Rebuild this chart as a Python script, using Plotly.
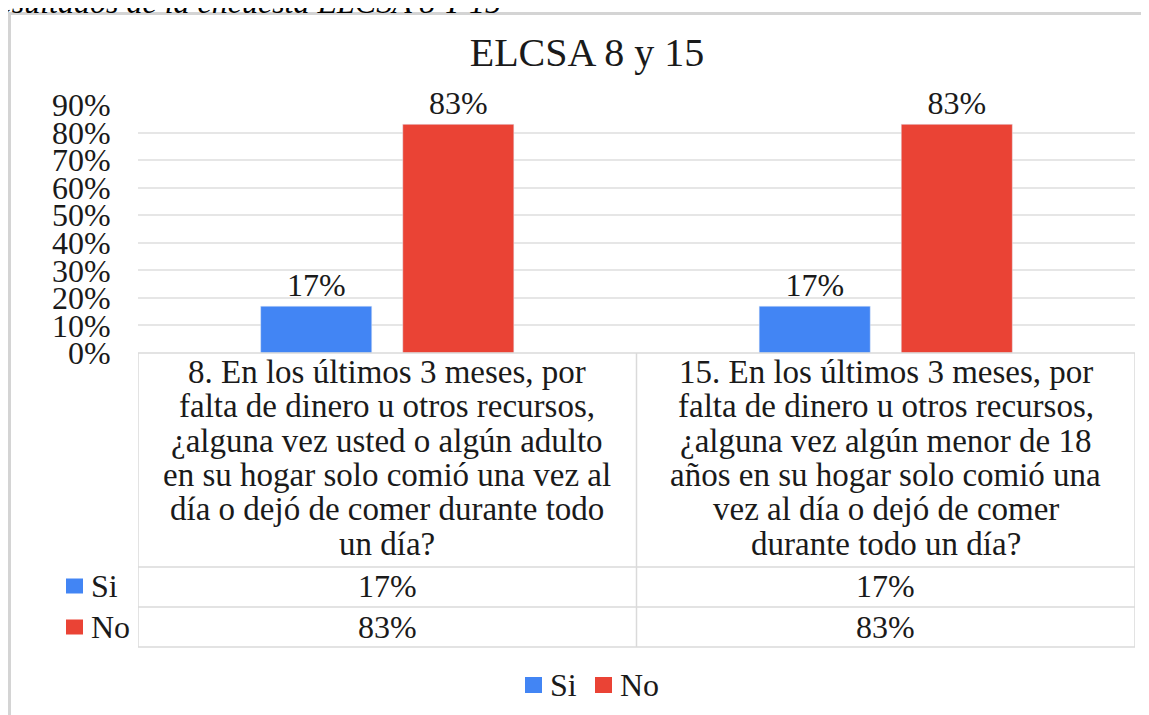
import plotly.graph_objects as go

# data
question_lines = [
    ["8. En los últimos 3 meses, por",
     "falta de dinero u otros recursos,",
     "¿alguna vez usted o algún adulto",
     "en su hogar solo comió una vez al",
     "día o dejó de comer durante todo",
     "un día?"],
    ["15. En los últimos 3 meses, por",
     "falta de dinero u otros recursos,",
     "¿alguna vez algún menor de 18",
     "años en su hogar solo comió una",
     "vez al día o dejó de comer",
     "durante todo un día?"],
]
categories = [" ".join(lines) for lines in question_lines]
series_names = ["Si", "No"]
si_values = [0.17, 0.17]
no_values = [0.83, 0.83]
series_values = [si_values, no_values]
series_colors = ["#4285F4", "#EA4335"]
y_ticks = [0, 0.1, 0.2, 0.3, 0.4, 0.5, 0.6, 0.7, 0.8, 0.9]

FONT = "Liberation Serif"
TXT = "#1a1a1a"
LINE = "#dadada"

# page has an 8px body margin; plot area on the page: left 138, right 1135, top 105, bottom 353
OFF = 8
W, H = 1149 - OFF, 715 - OFF

def ypx(py):
    return (353 - py) / 248

def xpx(px):
    return (px - 138) / 997

fig = go.Figure()
for name, vals, color in zip(series_names, series_values, series_colors):
    fig.add_trace(go.Bar(
        x=categories, y=vals, name=name, marker_color=color,
        text=[f"{v:.0%}" for v in vals], textposition="outside",
        textfont=dict(size=32, color=TXT, family=FONT),
        cliponaxis=False, constraintext="none", showlegend=False,
    ))

shapes = []
annotations = []

# chart frame (left and top edges visible)
shapes.append(dict(type="path", xref="paper", yref="paper",
                   path=f"M {xpx(9.5)},{ypx(730)} L {xpx(9.5)},{ypx(13.5)} L {xpx(1160)},{ypx(13.5)}",
                   line=dict(color="#d4d4d4", width=3)))

# data table lines
n = len(categories)
left_key = -0.5 + (56 - 138) / (997 / n)
for py, x0 in [(353, -0.5), (567, left_key), (607, left_key), (647, left_key)]:
    shapes.append(dict(type="line", xref="x", yref="paper", x0=x0, x1=n - 0.5,
                       y0=ypx(py), y1=ypx(py), line=dict(color=LINE, width=1.5)))
for i in range(n + 1):
    shapes.append(dict(type="line", xref="x", yref="paper", x0=i - 0.5, x1=i - 0.5,
                       y0=ypx(353), y1=ypx(647), line=dict(color=LINE, width=1.5)))
shapes.append(dict(type="line", xref="x", yref="paper", x0=left_key, x1=left_key,
                   y0=ypx(567), y1=ypx(647), line=dict(color=LINE, width=1.5)))

# category header text
for i, lines in enumerate(question_lines):
    for j, line in enumerate(lines):
        annotations.append(dict(x=i, xref="x", y=ypx(372 + 34.3 * j), yref="paper",
                                text=line, showarrow=False, xanchor="center", yanchor="middle",
                                font=dict(size=33, color=TXT, family=FONT)))

# value rows with legend keys
row_centers = [586, 627]
for name, vals, color, rc in zip(series_names, series_values, series_colors, row_centers):
    for i, v in enumerate(vals):
        annotations.append(dict(x=i, xref="x", y=ypx(rc), yref="paper", text=f"{v:.0%}",
                                showarrow=False, xanchor="center", yanchor="middle",
                                font=dict(size=32, color=TXT, family=FONT)))
    shapes.append(dict(type="rect", xref="paper", yref="paper", x0=xpx(66), x1=xpx(83),
                       y0=ypx(rc + 7.5), y1=ypx(rc - 7.5), fillcolor=color, line=dict(width=0)))
    annotations.append(dict(x=xpx(89), xref="paper", y=ypx(rc), yref="paper", text=name,
                            showarrow=False, xanchor="left", yanchor="middle",
                            font=dict(size=32, color=TXT, family=FONT)))

# bottom legend
legend_x = [525, 595]
for name, color, lx in zip(series_names, series_colors, legend_x):
    shapes.append(dict(type="rect", xref="paper", yref="paper", x0=xpx(lx), x1=xpx(lx + 17),
                       y0=ypx(693), y1=ypx(677), fillcolor=color, line=dict(width=0)))
    annotations.append(dict(x=xpx(lx + 23), xref="paper", y=ypx(685), yref="paper", text=name,
                            showarrow=False, xanchor="left", yanchor="middle",
                            font=dict(size=32, color=TXT, family=FONT)))

# caption cut off at the top of the page
annotations.append(dict(x=xpx(503), xref="paper", y=ypx(1.5), yref="paper",
                        text="<i>Resultados de la encuesta ELCSA 8 Y 15</i>",
                        showarrow=False, xanchor="right", yanchor="middle",
                        font=dict(size=32, color="#000000", family=FONT)))

fig.update_layout(
    width=W, height=H,
    margin=dict(l=138 - OFF, r=W - (1135 - OFF), t=105 - OFF, b=H - (353 - OFF), autoexpand=False),
    paper_bgcolor="white", plot_bgcolor="white",
    font=dict(family=FONT, color=TXT),
    title=dict(text="ELCSA 8 y 15", x=(587 - OFF) / W, xanchor="center",
               y=1 - (52 - OFF) / H, yanchor="middle",
               font=dict(size=40, color=TXT, family=FONT)),
    bargap=0.43, bargroupgap=0.218, barmode="group",
    shapes=shapes, annotations=annotations,
)
fig.update_xaxes(range=[-0.5, n - 0.5], showticklabels=False, showgrid=False,
                 zeroline=False, showline=False, automargin=False)
fig.update_yaxes(range=[0, 0.9], tickvals=y_ticks, tickformat=".0%",
                 tickfont=dict(size=32, color=TXT, family=FONT),
                 ticks="outside", ticklen=20, tickcolor="rgba(0,0,0,0)",
                 showgrid=True, gridcolor="#e6e6e6", gridwidth=1.5,
                 zeroline=False, showline=False, automargin=False)

fig.write_html("out.html")
